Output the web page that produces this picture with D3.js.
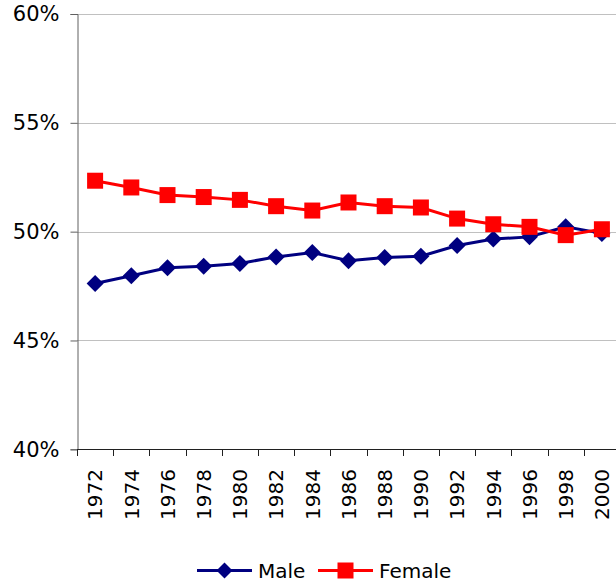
<!DOCTYPE html>
<html>
<head>
<meta charset="utf-8">
<script src="https://cdn.jsdelivr.net/npm/d3@7"></script>
<style>
  html, body { margin: 0; padding: 0; background: #fff; }
  svg { display: block; font-family: "DejaVu Sans", Verdana, sans-serif; }
</style>
</head>
<body>
<svg id="chart" width="616" height="583"></svg>
<script>
const years = ["1972","1974","1976","1978","1980","1982","1984","1986","1988","1990","1992","1994","1996","1998","2000"];
const maleValues = [47.62, 47.97, 48.34, 48.41, 48.54, 48.84, 49.04, 48.66, 48.81, 48.87, 49.36, 49.66, 49.76, 50.22, 49.92];
const femaleValues = [52.34, 52.03, 51.68, 51.59, 51.46, 51.17, 50.97, 51.34, 51.17, 51.11, 50.60, 50.34, 50.22, 49.84, 50.11];
const yTicks = [40, 45, 50, 55, 60];
const seriesNames = ["Male", "Female"];
const seriesColors = ["#000080", "#FF0000"];

const svg = d3.select("#chart");
const plotLeft = 77, plotTop = 14, plotBottom = 449.3, bandW = 36.2;
const x = d3.scaleBand().domain(years).range([plotLeft, plotLeft + bandW * years.length]).paddingInner(0).paddingOuter(0);
const y = d3.scaleLinear().domain([40, 60]).range([plotBottom, plotTop]);
const cx = d => x(d) + x.bandwidth() / 2;

// gridlines
svg.append("g").selectAll("line").data(yTicks.filter(t => t > 40)).join("line")
  .attr("x1", plotLeft).attr("x2", 616)
  .attr("y1", d => Math.round(y(d)) + 0.5).attr("y2", d => Math.round(y(d)) + 0.5)
  .attr("stroke", "#c0c0c0").attr("stroke-width", 1);

// y axis
const yAxis = d3.axisLeft(y).tickValues(yTicks).tickFormat(d => d + "%").tickSize(7).tickPadding(11);
const gy = svg.append("g").attr("transform", `translate(${plotLeft + 0.5},0)`).call(yAxis);
gy.select(".domain").attr("stroke", "#606060");
gy.selectAll(".tick line").attr("stroke", "#606060");
gy.selectAll(".tick text").attr("font-size", "21px").attr("fill", "#000")
  .attr("font-family", "\"DejaVu Sans\", Verdana, sans-serif");

// x axis
const gx = svg.append("g");
gx.append("line").attr("x1", plotLeft).attr("x2", 616)
  .attr("y1", Math.round(plotBottom) + 0.5).attr("y2", Math.round(plotBottom) + 0.5)
  .attr("stroke", "#202020");
gx.selectAll("line.tk").data(years).join("line").attr("class", "tk")
  .attr("x1", d => Math.round(x(d)) + 0.5).attr("x2", d => Math.round(x(d)) + 0.5)
  .attr("y1", Math.round(plotBottom)).attr("y2", Math.round(plotBottom) + 7)
  .attr("stroke", "#202020");
gx.selectAll("text").data(years).join("text")
  .attr("transform", d => `translate(${cx(d)},469) rotate(-90)`)
  .attr("text-anchor", "end").attr("dy", "0.36em")
  .attr("font-size", "20px").attr("fill", "#000")
  .text(d => d);

// series
const series = [maleValues, femaleValues];
const line = d3.line().x((d, i) => cx(years[i])).y(d => y(d));
series.forEach((vals, si) => {
  const g = svg.append("g");
  g.append("path").datum(vals).attr("d", line).attr("fill", "none")
    .attr("stroke", seriesColors[si]).attr("stroke-width", 3);
  if (si === 0) {
    g.selectAll("path.m").data(vals).join("path").attr("class", "m")
      .attr("d", "M0,-8.5L8.5,0L0,8.5L-8.5,0Z")
      .attr("transform", (d, i) => `translate(${cx(years[i])},${y(d)})`)
      .attr("fill", seriesColors[si]);
  } else {
    g.selectAll("rect").data(vals).join("rect")
      .attr("x", (d, i) => cx(years[i]) - 8).attr("y", d => y(d) - 8)
      .attr("width", 16).attr("height", 16)
      .attr("fill", seriesColors[si]);
  }
});

// legend
const legendItems = [
  { name: seriesNames[0], color: seriesColors[0], x0: 197, type: "diamond" },
  { name: seriesNames[1], color: seriesColors[1], x0: 318, type: "square" }
];
const ly = 570.5;
legendItems.forEach(it => {
  const g = svg.append("g");
  g.append("line").attr("x1", it.x0).attr("x2", it.x0 + 55).attr("y1", ly).attr("y2", ly)
    .attr("stroke", it.color).attr("stroke-width", 3);
  if (it.type === "diamond") {
    g.append("path").attr("d", "M0,-8L8,0L0,8L-8,0Z")
      .attr("transform", `translate(${it.x0 + 27.5},${ly})`).attr("fill", it.color);
  } else {
    g.append("rect").attr("x", it.x0 + 27.5 - 8).attr("y", ly - 8).attr("width", 16).attr("height", 16)
      .attr("fill", it.color);
  }
  g.append("text").attr("x", it.x0 + 61).attr("y", ly).attr("dy", "0.36em")
    .attr("font-size", "20px").attr("fill", "#000").text(it.name);
});
</script>
</body>
</html>
